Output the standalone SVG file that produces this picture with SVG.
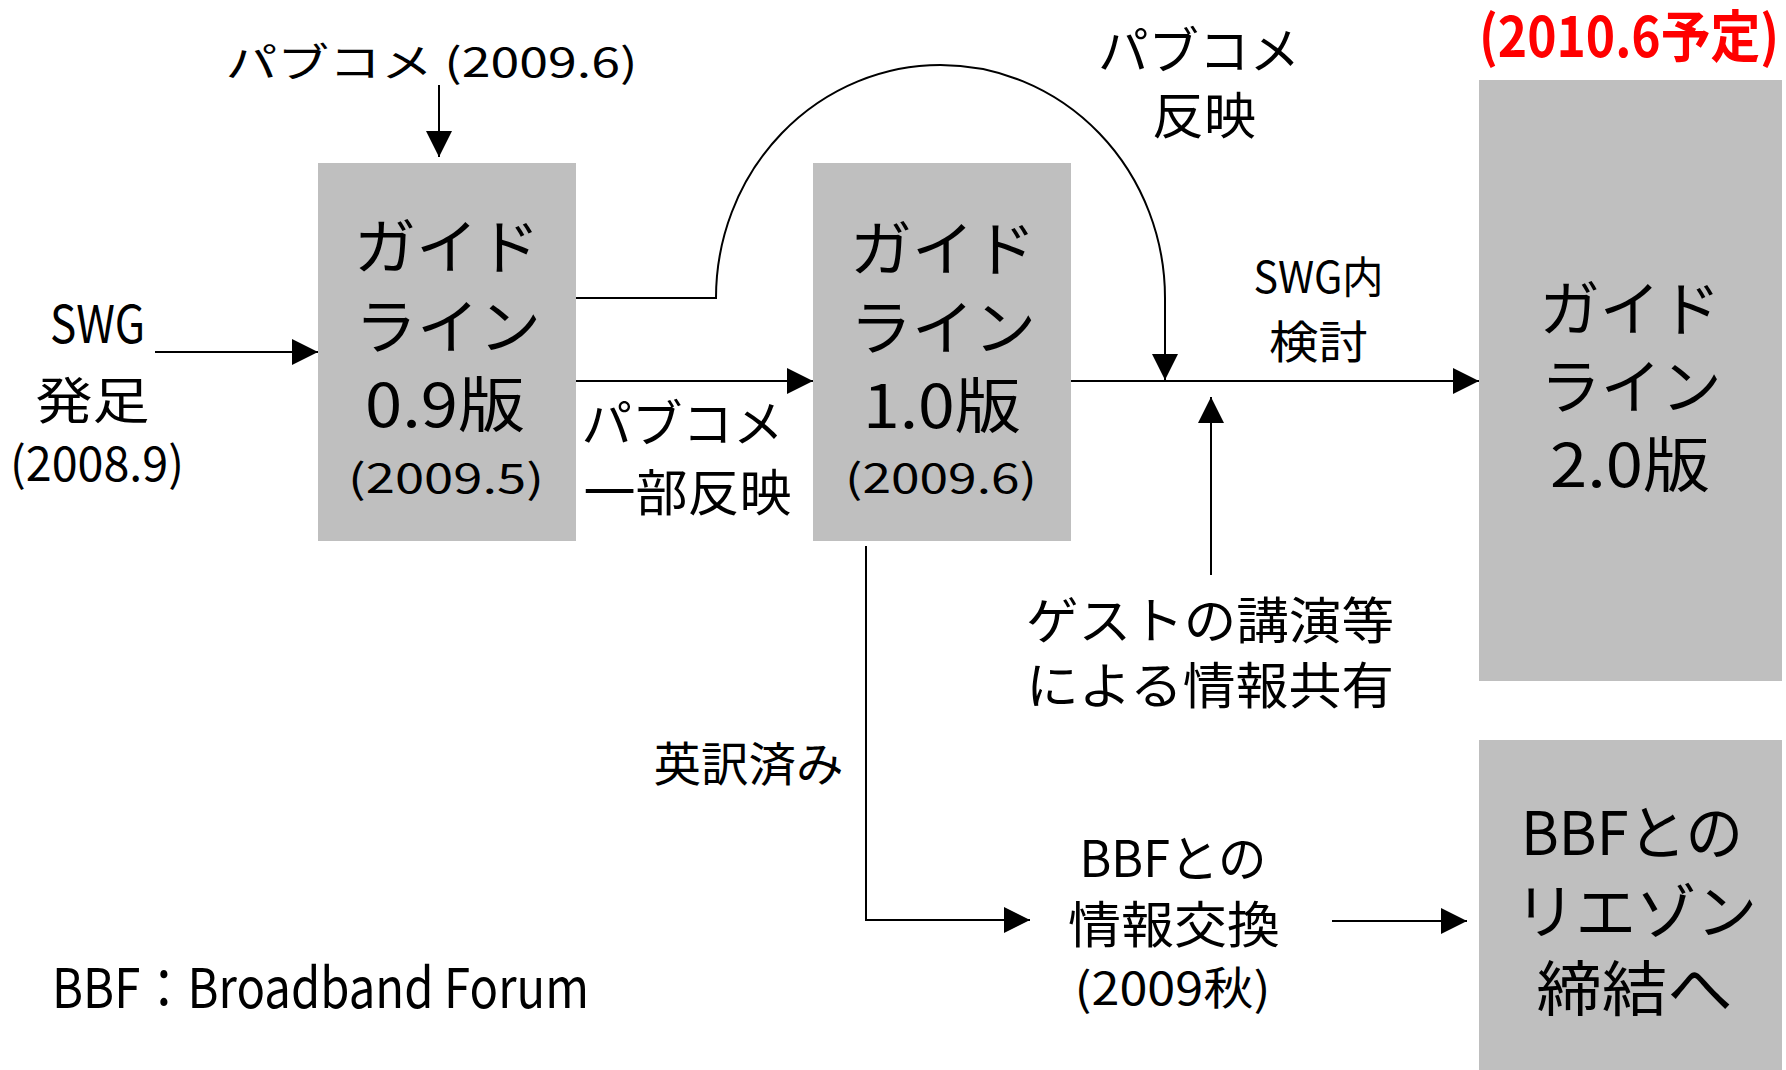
<svg xmlns="http://www.w3.org/2000/svg" width="1786" height="1070" viewBox="0 0 1786 1070">
<style>
text{font-family:"Noto Sans CJK JP","Noto Sans",sans-serif;fill:#000;text-anchor:middle}
.box{fill:#bfbfbf}
.c{fill:none;stroke:#000;stroke-width:2}
.red{fill:#ff0000;font-weight:bold}
</style>
<defs>
<marker id="ah" markerUnits="userSpaceOnUse" markerWidth="26" markerHeight="26" refX="26" refY="13" orient="auto" viewBox="0 0 26 26">
<path d="M0,0 L26,13 L0,26 z" fill="#000"/>
</marker>
</defs>
<rect width="1786" height="1070" fill="#fff"/>

<g id="connectors">
<path class="c" d="M439,85 V157" marker-end="url(#ah)"/>
<path class="c" d="M155,352 H318" marker-end="url(#ah)"/>
<path class="c" d="M576,298 H716 A224.5,233 0 0 1 1165,298 V380" marker-end="url(#ah)"/>
<path class="c" d="M576,381 H813" marker-end="url(#ah)"/>
<path class="c" d="M1071,381 H1479" marker-end="url(#ah)"/>
<path class="c" d="M1211,575 V397" marker-end="url(#ah)"/>
<path class="c" d="M866,546 V920 H1030" marker-end="url(#ah)"/>
<path class="c" d="M1332,921 H1467" marker-end="url(#ah)"/>
</g>

<g id="label-pubcom-top">
<text x="431.5" y="77" font-size="40" textLength="412" lengthAdjust="spacingAndGlyphs">パブコメ (2009.6)</text>
</g>

<g id="node-swg">
<text x="97.5" y="343" font-size="52" textLength="95" lengthAdjust="spacingAndGlyphs">SWG</text>
<text x="92.5" y="419" font-size="50" textLength="114" lengthAdjust="spacingAndGlyphs">発足</text>
<text x="97" y="481" font-size="47" textLength="174" lengthAdjust="spacingAndGlyphs">(2008.9)</text>
</g>

<g id="node-gl09">
<rect class="box" x="318" y="163" width="258" height="378"/>
<text x="447" y="269" font-size="60" textLength="186" lengthAdjust="spacingAndGlyphs">ガイド</text>
<text x="448" y="349" font-size="60" textLength="186" lengthAdjust="spacingAndGlyphs">ライン</text>
<text x="445" y="427" font-size="60" textLength="160" lengthAdjust="spacingAndGlyphs">0.9版</text>
<text x="446" y="493" font-size="40" textLength="196" lengthAdjust="spacingAndGlyphs">(2009.5)</text>
</g>

<g id="label-pubcom-partial">
<text x="682.5" y="442" font-size="50" textLength="202" lengthAdjust="spacingAndGlyphs">パブコメ</text>
<text x="687.5" y="511" font-size="50" textLength="208" lengthAdjust="spacingAndGlyphs">一部反映</text>
</g>

<g id="node-gl10">
<rect class="box" x="813" y="163" width="258" height="378"/>
<text x="943" y="271" font-size="60" textLength="186" lengthAdjust="spacingAndGlyphs">ガイド</text>
<text x="943" y="350" font-size="60" textLength="186" lengthAdjust="spacingAndGlyphs">ライン</text>
<text x="942" y="428" font-size="60" textLength="158" lengthAdjust="spacingAndGlyphs">1.0版</text>
<text x="941" y="493" font-size="40" textLength="192" lengthAdjust="spacingAndGlyphs">(2009.6)</text>
</g>

<g id="label-pubcom-reflect">
<text x="1199" y="69" font-size="50" textLength="202" lengthAdjust="spacingAndGlyphs">パブコメ</text>
<text x="1204" y="134" font-size="50" textLength="104" lengthAdjust="spacingAndGlyphs">反映</text>
</g>

<g id="label-swg-study">
<text x="1318.5" y="293" font-size="43" textLength="130" lengthAdjust="spacingAndGlyphs">SWG内</text>
<text x="1318.5" y="359" font-size="45" textLength="99" lengthAdjust="spacingAndGlyphs">検討</text>
</g>

<g id="label-guest">
<text x="1210" y="639" font-size="50" textLength="368" lengthAdjust="spacingAndGlyphs">ゲストの講演等</text>
<text x="1210" y="704" font-size="50" textLength="368" lengthAdjust="spacingAndGlyphs">による情報共有</text>
</g>

<g id="label-translated">
<text x="748.5" y="781" font-size="47" textLength="190" lengthAdjust="spacingAndGlyphs">英訳済み</text>
</g>

<g id="node-bbf-exchange">
<text x="1173" y="877" font-size="50" textLength="187" lengthAdjust="spacingAndGlyphs">BBFとの</text>
<text x="1174" y="943" font-size="50" textLength="212" lengthAdjust="spacingAndGlyphs">情報交換</text>
<text x="1172.5" y="1005" font-size="45" textLength="196" lengthAdjust="spacingAndGlyphs">(2009秋)</text>
</g>

<g id="node-gl20">
<text class="red" x="1629" y="57" font-size="56" textLength="300" lengthAdjust="spacingAndGlyphs">(2010.6予定)</text>
<rect class="box" x="1479" y="80" width="303" height="601"/>
<text x="1630" y="331" font-size="60" textLength="181" lengthAdjust="spacingAndGlyphs">ガイド</text>
<text x="1631" y="409" font-size="60" textLength="181" lengthAdjust="spacingAndGlyphs">ライン</text>
<text x="1630" y="487" font-size="60" textLength="160" lengthAdjust="spacingAndGlyphs">2.0版</text>
</g>

<g id="node-liaison">
<rect class="box" x="1479" y="740" width="303" height="330"/>
<text x="1632" y="855" font-size="60" textLength="222" lengthAdjust="spacingAndGlyphs">BBFとの</text>
<text x="1636" y="934" font-size="60" textLength="242" lengthAdjust="spacingAndGlyphs">リエゾン</text>
<text x="1634.5" y="1011" font-size="60" textLength="196" lengthAdjust="spacingAndGlyphs">締結へ</text>
</g>

<g id="note">
<text x="52" y="1008" font-size="55" textLength="537" lengthAdjust="spacingAndGlyphs" style="text-anchor:start">BBF：Broadband Forum</text>
</g>
</svg>
